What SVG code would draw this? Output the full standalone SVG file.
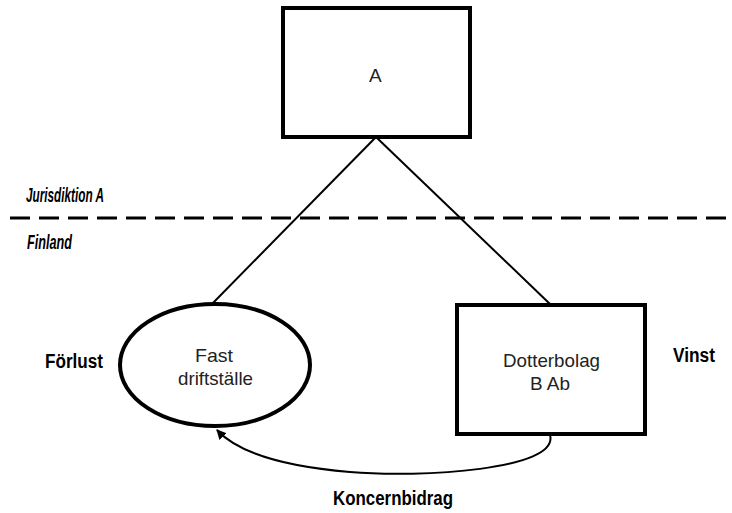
<svg xmlns="http://www.w3.org/2000/svg" width="732" height="513" viewBox="0 0 732 513">
  <style>
    .node { fill: #fff; stroke: #000; stroke-width: 4; }
    .conn { fill: none; stroke: #000; stroke-width: 2; }
    .lbl { font-family: "Liberation Sans", Arial, sans-serif; font-size: 19px; fill: #222; }
    .side { font-family: "Liberation Sans", Arial, sans-serif; font-size: 20px; font-weight: bold; fill: #000; }
  </style>
  <defs>
    <marker id="arrow" viewBox="0 0 10 10" refX="9" refY="5" markerWidth="5" markerHeight="5" orient="auto-start-reverse">
      <path d="M0,0 L10,5 L0,10 z" fill="#000"/>
    </marker>
  </defs>

  <!-- jurisdiction border -->
  <line x1="10" y1="218" x2="732" y2="218" stroke="#000" stroke-width="3" stroke-dasharray="20 9"/>
  <text class="side" x="26" y="202" font-style="italic" font-size="19" textLength="78" lengthAdjust="spacingAndGlyphs">Jurisdiktion A</text>
  <text class="side" x="27" y="249" font-style="italic" font-size="19" textLength="45" lengthAdjust="spacingAndGlyphs">Finland</text>

  <g id="connectors">
    <line class="conn" x1="376" y1="137" x2="212" y2="304"/>
    <line class="conn" x1="376" y1="137" x2="551" y2="305"/>
    <path class="conn" d="M550,435 C560,470 420,478 350,472 C290,467 240,455 217,430" marker-end="url(#arrow)"/>
  </g>

  <g id="node-a">
    <rect class="node" x="283" y="8" width="187" height="129"/>
    <text class="lbl" x="369" y="82" font-size="17">A</text>
  </g>

  <g id="node-fast-driftstalle">
    <ellipse class="node" cx="215" cy="365" rx="95" ry="61"/>
    <text class="lbl" x="195" y="362" textLength="38" lengthAdjust="spacingAndGlyphs">Fast</text>
    <text class="lbl" x="178" y="385" textLength="75" lengthAdjust="spacingAndGlyphs">driftställe</text>
  </g>

  <g id="node-dotterbolag">
    <rect class="node" x="457" y="305" width="188" height="129"/>
    <text class="lbl" x="503" y="367" textLength="97" lengthAdjust="spacingAndGlyphs">Dotterbolag</text>
    <text class="lbl" x="530" y="390" textLength="40" lengthAdjust="spacingAndGlyphs">B Ab</text>
  </g>

  <text class="side" x="45" y="368" textLength="58" lengthAdjust="spacingAndGlyphs">Förlust</text>
  <text class="side" x="673" y="362" textLength="42" lengthAdjust="spacingAndGlyphs">Vinst</text>
  <text class="side" x="333" y="505" font-size="19" textLength="120" lengthAdjust="spacingAndGlyphs">Koncernbidrag</text>
</svg>
